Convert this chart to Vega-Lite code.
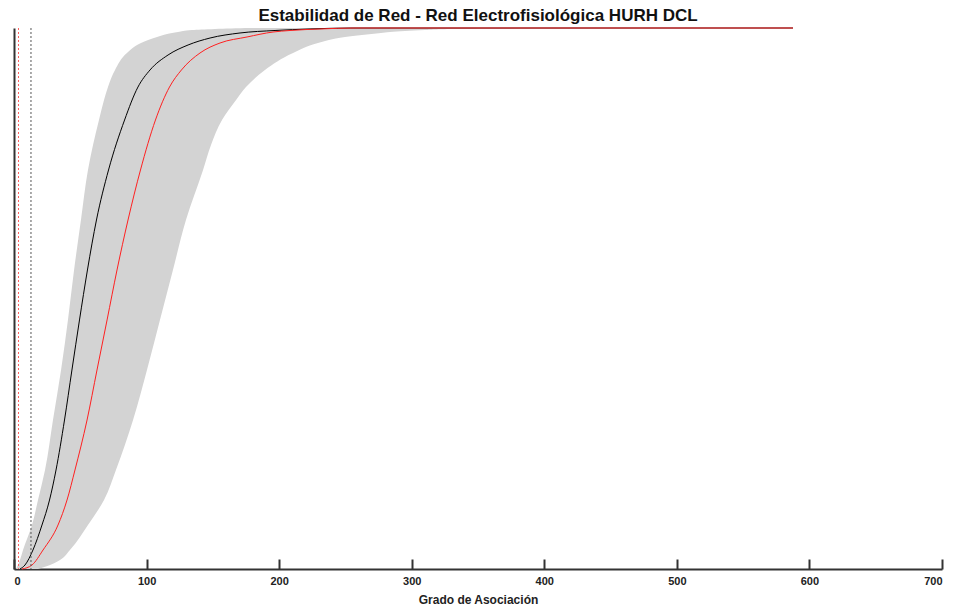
{
  "$schema": "https://vega.github.io/schema/vega-lite/v6.json",
  "width": 928,
  "height": 541,
  "autosize": {"type": "none"},
  "padding": {"left": 14, "top": 28, "right": 11, "bottom": 40},
  "background": "white",
  "title": {"text": "Estabilidad de Red - Red Electrofisiológica HURH DCL", "fontSize": 17, "font": "Liberation Sans", "fontWeight": "bold", "color": "#111111", "offset": 1, "anchor": "middle"},
  "config": {"view": {"stroke": null}, "axis": {"grid": false}},
  "datasets": {
    "band": [
      {"p": 0, "lo": 1.5, "hi": 18.1},
      {"p": 0.0074, "lo": 3.0, "hi": 27.2},
      {"p": 0.0166, "lo": 4.5, "hi": 34.7},
      {"p": 0.0351, "lo": 6.8, "hi": 42.2},
      {"p": 0.0813, "lo": 13.6, "hi": 55.8},
      {"p": 0.1275, "lo": 18.1, "hi": 67.9},
      {"p": 0.183, "lo": 23.4, "hi": 76.9},
      {"p": 0.2754, "lo": 29.4, "hi": 89.8},
      {"p": 0.3678, "lo": 35.5, "hi": 100.3},
      {"p": 0.4603, "lo": 40.7, "hi": 110.1},
      {"p": 0.5527, "lo": 45.3, "hi": 119.9},
      {"p": 0.6451, "lo": 50.5, "hi": 129.7},
      {"p": 0.7375, "lo": 55.8, "hi": 142.6},
      {"p": 0.7837, "lo": 59.6, "hi": 148.6},
      {"p": 0.8299, "lo": 64.1, "hi": 156.9},
      {"p": 0.8669, "lo": 67.9, "hi": 167.5},
      {"p": 0.8909, "lo": 70.9, "hi": 175.0},
      {"p": 0.9224, "lo": 76.2, "hi": 189.3},
      {"p": 0.9538, "lo": 85.2, "hi": 210.5},
      {"p": 0.9723, "lo": 95.8, "hi": 229.3},
      {"p": 0.9834, "lo": 107.9, "hi": 249.7},
      {"p": 0.9908, "lo": 119.2, "hi": 276.8},
      {"p": 0.9926, "lo": 123.7, "hi": 283.6},
      {"p": 0.9963, "lo": 134.3, "hi": 310.0},
      {"p": 0.9982, "lo": 151.6, "hi": 328.9},
      {"p": 1.0, "lo": 178.0, "hi": 587.6}
    ],
    "curves": [
      {"series": "observada", "x": 4.5, "y": 0},
      {"series": "observada", "x": 8.3, "y": 0.0074},
      {"series": "observada", "x": 14.3, "y": 0.0351},
      {"series": "observada", "x": 21.1, "y": 0.0813},
      {"series": "observada", "x": 26.8, "y": 0.1275},
      {"series": "observada", "x": 31.7, "y": 0.183},
      {"series": "observada", "x": 38.1, "y": 0.2754},
      {"series": "observada", "x": 43.7, "y": 0.3678},
      {"series": "observada", "x": 49.4, "y": 0.4603},
      {"series": "observada", "x": 55.4, "y": 0.5527},
      {"series": "observada", "x": 62.2, "y": 0.6451},
      {"series": "observada", "x": 71.3, "y": 0.7375},
      {"series": "observada", "x": 83.4, "y": 0.8299},
      {"series": "observada", "x": 93.5, "y": 0.8909},
      {"series": "observada", "x": 102.6, "y": 0.9224},
      {"series": "observada", "x": 116.2, "y": 0.9501},
      {"series": "observada", "x": 131.3, "y": 0.9686},
      {"series": "observada", "x": 147.9, "y": 0.9815},
      {"series": "observada", "x": 170.5, "y": 0.9908},
      {"series": "observada", "x": 196.9, "y": 0.9954},
      {"series": "observada", "x": 223.3, "y": 0.9982},
      {"series": "observada", "x": 253.5, "y": 1.0},
      {"series": "observada", "x": 587.6, "y": 1.0},
      {"series": "nula", "x": 6.0, "y": 0},
      {"series": "nula", "x": 13.6, "y": 0.0074},
      {"series": "nula", "x": 21.9, "y": 0.0351},
      {"series": "nula", "x": 33.2, "y": 0.0813},
      {"series": "nula", "x": 40.0, "y": 0.1275},
      {"series": "nula", "x": 46.0, "y": 0.183},
      {"series": "nula", "x": 55.1, "y": 0.2754},
      {"series": "nula", "x": 62.6, "y": 0.3678},
      {"series": "nula", "x": 70.2, "y": 0.4603},
      {"series": "nula", "x": 77.7, "y": 0.5527},
      {"series": "nula", "x": 86.0, "y": 0.6451},
      {"series": "nula", "x": 95.4, "y": 0.7375},
      {"series": "nula", "x": 106.7, "y": 0.8299},
      {"series": "nula", "x": 117.3, "y": 0.8909},
      {"series": "nula", "x": 126.3, "y": 0.9224},
      {"series": "nula", "x": 140.3, "y": 0.9538},
      {"series": "nula", "x": 155.4, "y": 0.9723},
      {"series": "nula", "x": 175.8, "y": 0.9834},
      {"series": "nula", "x": 195.4, "y": 0.9926},
      {"series": "nula", "x": 208.2, "y": 0.9954},
      {"series": "nula", "x": 230.8, "y": 0.9982},
      {"series": "nula", "x": 257.2, "y": 1.0},
      {"series": "nula", "x": 587.6, "y": 1.0}
    ],
    "umbrales": [
      {"series": "nula", "x": 3.4},
      {"series": "observada", "x": 12.8}
    ]
  },
  "layer": [
    {
      "data": {"name": "band"},
      "mark": {"type": "area", "orient": "horizontal", "color": "#d3d3d3", "interpolate": "monotone"},
      "encoding": {
        "y": {"field": "p", "type": "quantitative", "scale": {"domain": [0, 1]},
          "axis": {"labels": false, "ticks": false, "title": null, "domain": true, "domainColor": "#333333", "domainWidth": 2}},
        "x": {"field": "lo", "type": "quantitative", "scale": {"domain": [0, 700]},
          "axis": {"values": [0, 100, 200, 300, 400, 500, 600, 700], "title": "Grado de Asociación", "titleFont": "Liberation Sans", "titleFontSize": 12, "titleFontWeight": "bold", "titleColor": "#222222", "titlePadding": 8,
            "labelFont": "Liberation Sans", "labelFontSize": 11, "labelFontWeight": "bold", "labelColor": "#222222", "labelPadding": 16,
            "domainColor": "#333333", "domainWidth": 2, "tickColor": "#333333", "tickWidth": 2, "tickSize": -10}},
        "x2": {"field": "hi"}
      }
    },
    {
      "data": {"name": "curves"},
      "mark": {"type": "line", "strokeWidth": 1, "interpolate": "monotone"},
      "encoding": {
        "x": {"field": "x", "type": "quantitative"},
        "y": {"field": "y", "type": "quantitative"},
        "color": {"field": "series", "type": "nominal", "scale": {"domain": ["observada", "nula"], "range": ["#000000", "#ff2020"]}, "legend": null}
      }
    },
    {
      "data": {"name": "umbrales"},
      "mark": {"type": "rule", "strokeWidth": 1, "strokeDash": [2, 2]},
      "encoding": {
        "x": {"field": "x", "type": "quantitative"},
        "color": {"field": "series", "type": "nominal", "scale": {"domain": ["observada", "nula"], "range": ["#555555", "#ff6060"]}, "legend": null}
      }
    }
  ],
  "resolve": {"scale": {"color": "independent"}}
}
